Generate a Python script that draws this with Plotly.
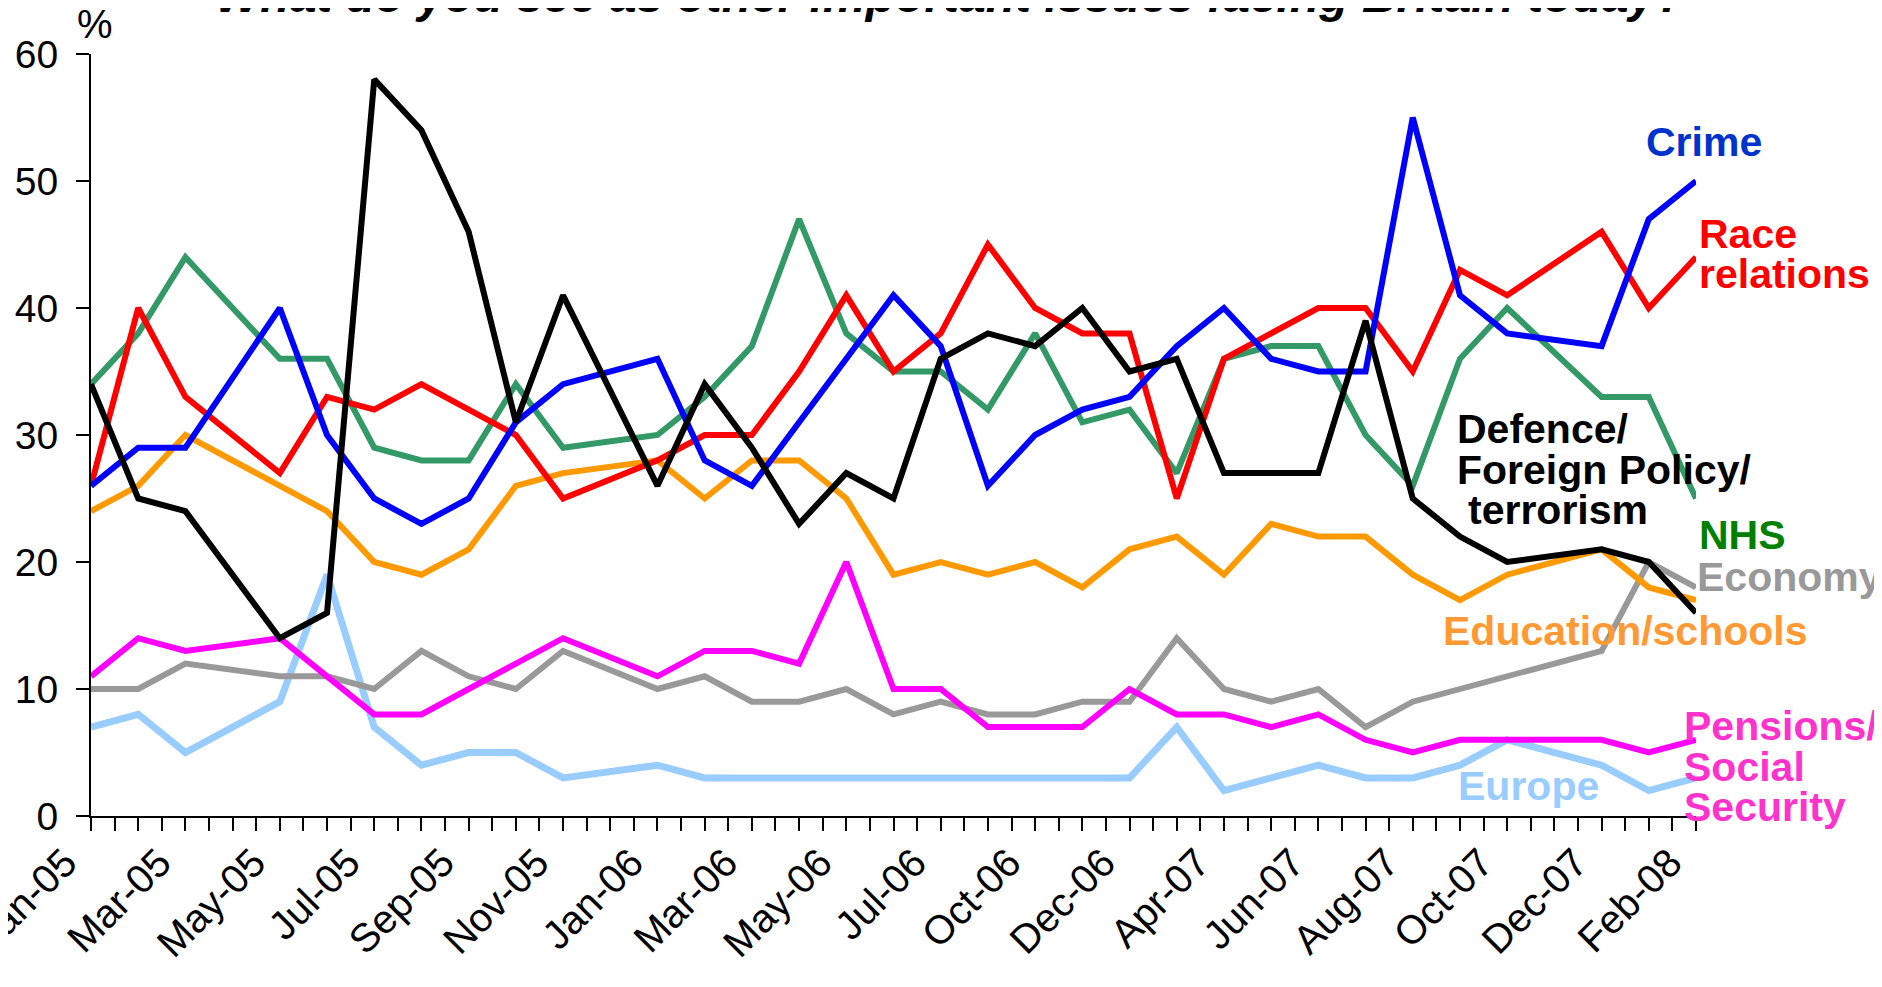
import plotly.graph_objects as go

# ---------------- data ----------------
surveys = ["Jan-05", "Feb-05", "Mar-05", "Apr-05", "May-05", "Jun-05", "Jul-05", "Aug-05",
           "Sep-05", "Oct-05", "Nov-05", "Dec-05", "Jan-06", "Feb-06", "Mar-06", "Apr-06",
           "May-06", "Jun-06", "Jul-06", "Sep-06", "Oct-06", "Nov-06", "Dec-06", "Feb-07",
           "Apr-07", "May-07", "Jun-07", "Jul-07", "Aug-07", "Sep-07", "Oct-07", "Nov-07",
           "Dec-07", "Jan-08", "Feb-08"]

crime = [26, 29, 29, None, 40, 30, 25, 23, 25, 31, 34, None, 36, 28, 26, 31, 36, 41, 37, 26,
         30, 32, 33, 37, 40, 36, 35, 35, 55, 41, 38, None, 37, 47, 50]
race_relations = [26, 40, 33, None, 27, 33, 32, 34, 32, 30, 25, None, 28, 30, 30, 35, 41, 35,
                  38, 45, 40, 38, 38, 25, 36, 38, 40, 40, 35, 43, 41, None, 46, 40, 44]
nhs = [34, 38, 44, None, 36, 36, 29, 28, 28, 34, 29, None, 30, 33, 37, 47, 38, 35, 35, 32, 38,
       31, 32, 27, 36, 37, 37, 30, 26, 36, 40, None, 33, 33, 25]
defence = [34, 25, 24, None, 14, 16, 58, 54, 46, 31, 41, None, 26, 34, 29, 23, 27, 25, 36, 38,
           37, 40, 35, 36, 27, 27, 27, 39, 25, 22, 20, None, 21, 20, 16]
education = [24, 26, 30, None, 26, 24, 20, 19, 21, 26, 27, None, 28, 25, 28, 28, 25, 19, 20, 19,
             20, 18, 21, 22, 19, 23, 22, 22, 19, 17, 19, None, 21, 18, 17]
economy = [10, 10, 12, None, 11, 11, 10, 13, 11, 10, 13, None, 10, 11, 9, 9, 10, 8, 9, 8, 8, 9,
           9, 14, 10, 9, 10, 7, 9, 10, 11, None, 13, 20, 18]
pensions = [11, 14, 13, None, 14, 11, 8, 8, 10, 12, 14, None, 11, 13, 13, 12, 20, 10, 10, 7, 7,
            7, 10, 8, 8, 7, 8, 6, 5, 6, 6, None, 6, 5, 6]
europe = [7, 8, 5, None, 9, 19, 7, 4, 5, 5, 3, None, 4, 3, 3, 3, 3, 3, 3, 3, 3, 3, 3, 7, 2, 3,
          4, 3, 3, 4, 6, None, 4, 2, 3]

y_ticks = [0, 10, 20, 30, 40, 50, 60]

# ---------------- layout geometry ----------------
W, H = 1882, 987
OFF = 8                      # default page (body) margin around the figure
PX0, PY0 = 91, 54            # plot area top-left on screen
PW, PH = 1605, 762           # plot area size
ML, MT = PX0 - OFF, PY0 - OFF
MR, MB = W - ML - PW, H - MT - PH
FONT = "Liberation Sans, Arial, sans-serif"

pos = list(range(len(surveys)))

series = [
    ("Europe", europe, "#99CCFF", 7),
    ("Economy", economy, "#999999", 6),
    ("Pensions/Social Security", pensions, "#FF00FF", 6),
    ("Education/schools", education, "#FF9900", 6),
    ("NHS", nhs, "#339966", 6),
    ("Race relations", race_relations, "#FF0000", 6),
    ("Crime", crime, "#0000FF", 6),
    ("Defence/Foreign Policy/terrorism", defence, "#000000", 6),
]

fig = go.Figure()
for name, vals, col, lw in series:
    fig.add_trace(go.Scatter(x=pos, y=vals, mode="lines", name=name, connectgaps=True,
                             line=dict(color=col, width=lw), hovertext=surveys))


def px_x(px):
    return (px - PX0) / PW


def px_y(py):
    return (PY0 + PH - py) / PH


labels = [
    ("Crime", 1645, 142, "#0033CC"),
    ("Race", 1698, 234, "#FF0000"),
    ("relations", 1698, 274, "#FF0000"),
    ("Defence/", 1456, 429, "#000000"),
    ("Foreign Policy/", 1456, 470, "#000000"),
    ("terrorism", 1467, 510, "#000000"),
    ("NHS", 1698, 535, "#008000"),
    ("Economy", 1696, 577, "#999999"),
    ("Education/schools", 1442, 631, "#FF9933"),
    ("Europe", 1457, 786, "#99CCFF"),
    ("Pensions/", 1683, 726, "#FF33CC"),
    ("Social", 1683, 767, "#FF33CC"),
    ("Security", 1683, 807, "#FF33CC"),
]
for txt, lx, cy, col in labels:
    fig.add_annotation(text="<b>" + txt + "</b>", x=px_x(lx), y=px_y(cy), xref="paper",
                       yref="paper", xanchor="left", yanchor="middle", showarrow=False,
                       font=dict(family=FONT, size=41, color=col), borderpad=0)

# "%" unit label
fig.add_annotation(text="%", x=px_x(76), y=px_y(24), xref="paper", yref="paper",
                   xanchor="left", yanchor="middle", showarrow=False,
                   font=dict(family=FONT, size=40, color="black"), borderpad=0)

# title (partly cut off at top in the original)
fig.add_annotation(text="<b><i>What do you see as other important issues facing Britain today?</i></b>",
                   x=px_x(950), y=px_y(-5), xref="paper", yref="paper",
                   xanchor="center", yanchor="middle", showarrow=False,
                   font=dict(family=FONT, size=48, color="black"), borderpad=0)

fig.update_layout(
    width=W, height=H,
    margin=dict(l=ML, r=MR, t=MT, b=MB, pad=0, autoexpand=False),
    paper_bgcolor="white", plot_bgcolor="white",
    showlegend=False,
    font=dict(family=FONT, color="black"),
    xaxis=dict(
        range=[0, len(surveys) - 1], automargin=False,
        tickmode="array", tickvals=pos[::2], ticktext=surveys[::2],
        tickangle=-45, tickfont=dict(size=40, family=FONT, color="black"),
        ticks="outside", ticklen=13, tickwidth=2, tickcolor="black",
        ticklabeloverflow="allow", ticklabelshift=-26, ticklabelstandoff=-8,
        minor=dict(tickmode="linear", tick0=0, dtick=0.5, ticks="outside", ticklen=13,
                   tickwidth=2, tickcolor="black", showgrid=False),
        showline=True, linecolor="black", linewidth=2,
        showgrid=False, zeroline=False, fixedrange=True,
    ),
    yaxis=dict(
        range=[0, 60], tickmode="array", tickvals=y_ticks, automargin=False,
        tickfont=dict(size=39, family=FONT, color="black"),
        ticks="outside", ticklen=13, tickwidth=2, tickcolor="black",
        ticklabelstandoff=10,
        showline=True, linecolor="black", linewidth=2,
        showgrid=False, zeroline=False, fixedrange=True,
    ),
)

fig.write_html("out.html")
